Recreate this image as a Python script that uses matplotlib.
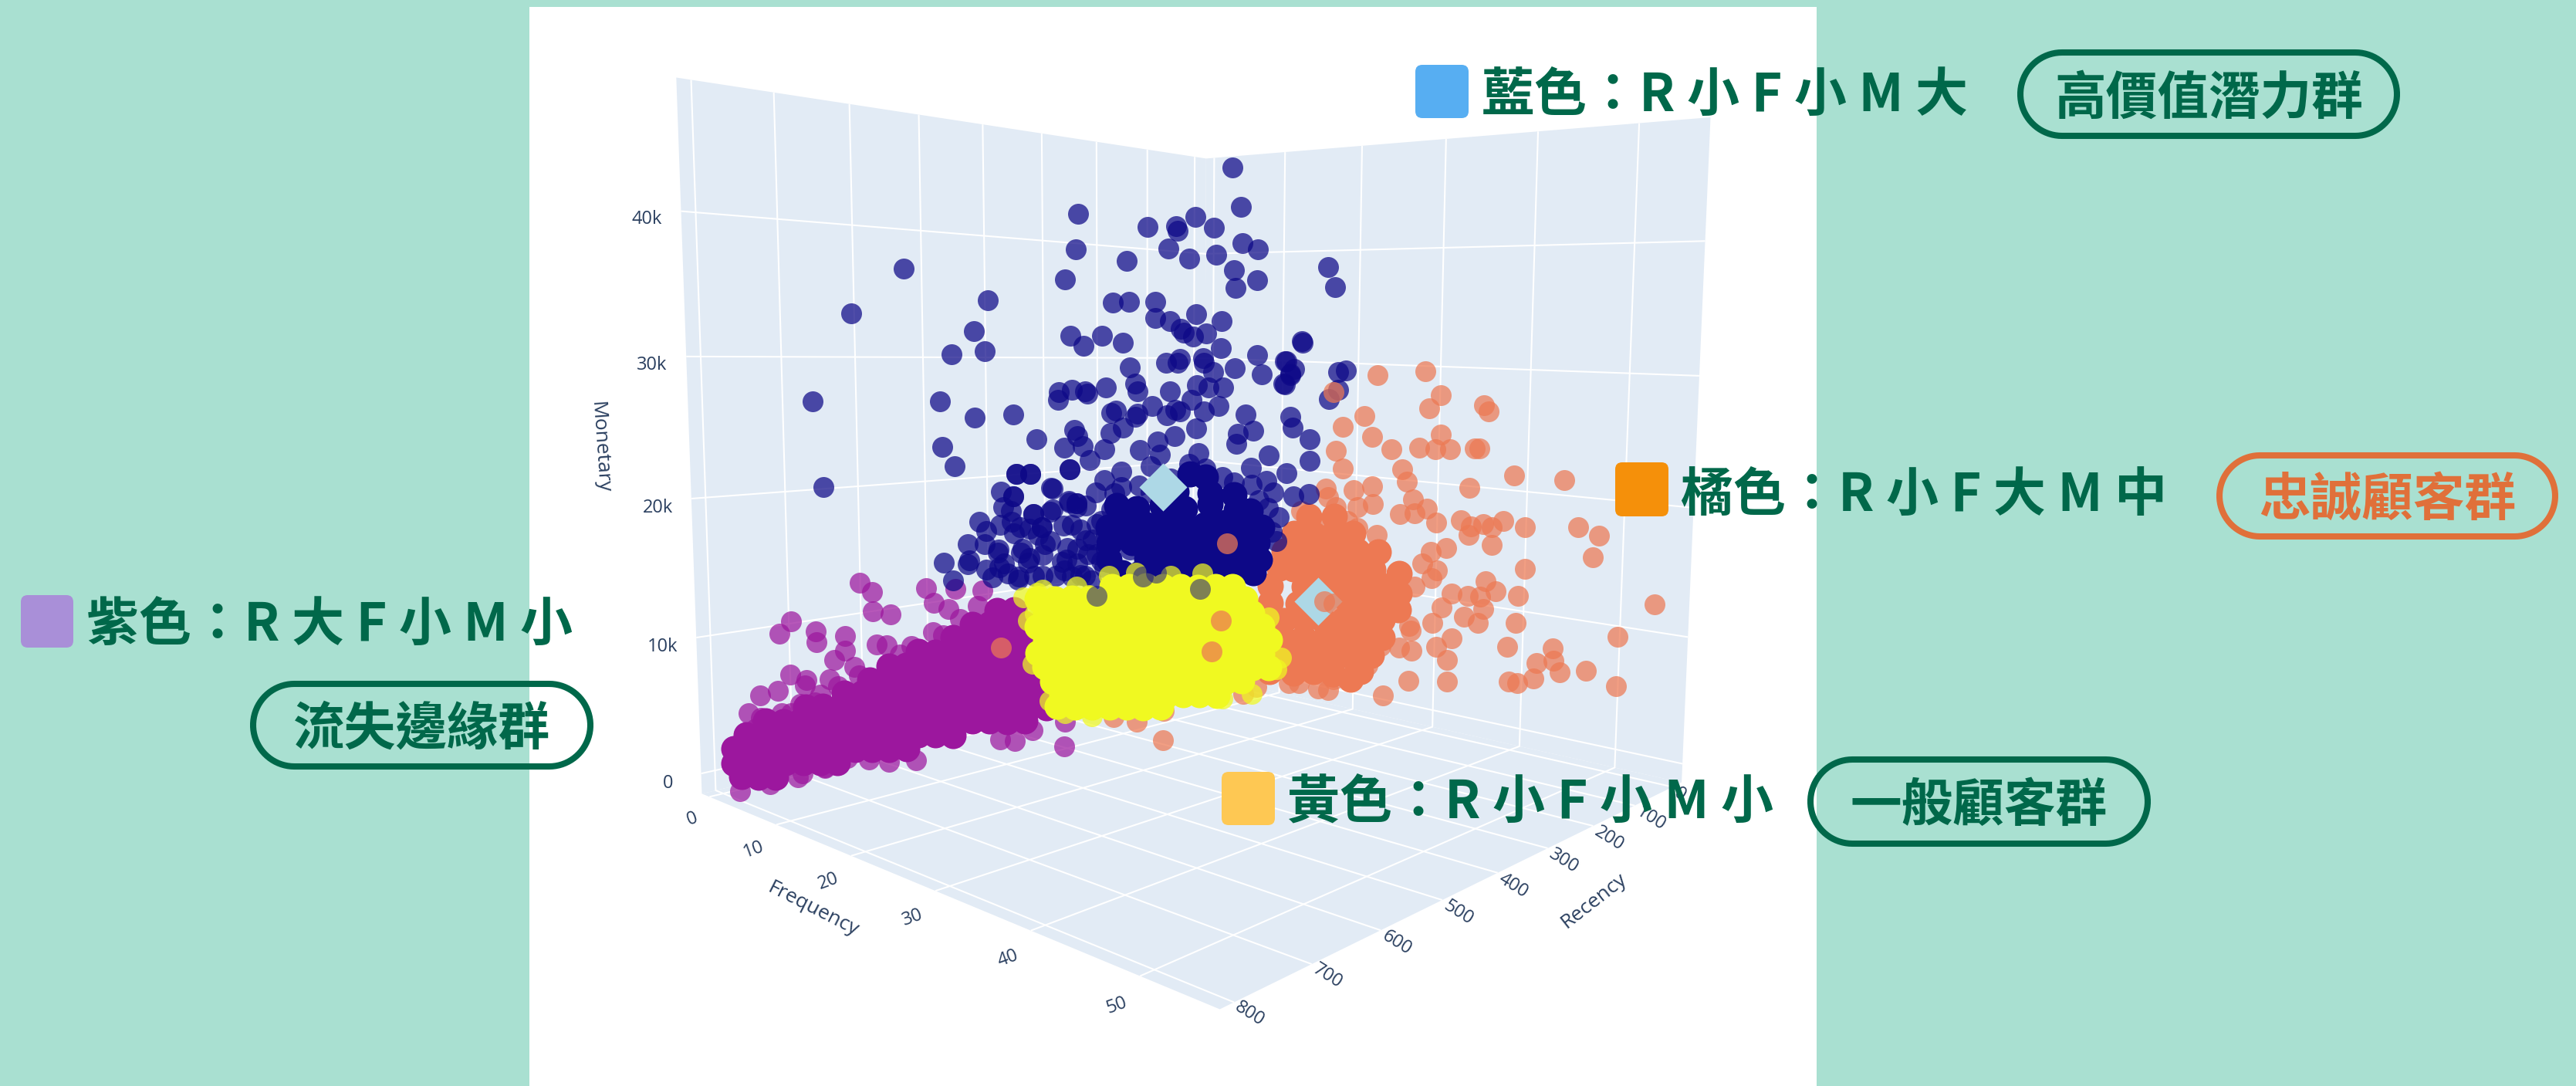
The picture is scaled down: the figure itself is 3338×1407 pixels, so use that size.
import numpy as np
import matplotlib
matplotlib.use('Agg')
import matplotlib.pyplot as plt
from matplotlib.patches import FancyBboxPatch, Polygon, Rectangle

plt.rcParams['font.family'] = ['Noto Sans CJK TC', 'DejaVu Sans']

# monetary values are in thousands
blue_r = [222,212,411,328,293,291,269,245,414,353,302,276,243,209,188,605,427,219,217,189,660,514,370,350,319,319,300,267,235,530,519,555,421,405,383,358,287,282,271,254,
          236,258,188,151,128,143,151,305,288,291,257,245,218,182,350,343,340,301,266,251,232,434,419,435,403,401,378,702,568,530,487,461,372,367,343,340,322,304,293,288,273,
          257,238,203,143,140,417,413,373,358,428,406,380,398,567,553,422,337,316,313,294,266,215,212,193,171,484,468,693,502,488,444,491,466,424,414,527,504,481,456,94,84,129,
          149,139,143,152,78,68,78,90,117,116,117,160,485,468,443,422,414,466,456,420,390,381,360,339,174,148,137,194,422,369,324,255,217,184,157,167,500,478,488,452,414,390,
          414,432,381,472,455,484,405,420,567,539,504,557,513,521,507,
          488,470,446,427,403,385,440,482,397,379,403,372,443,470,500,299,263,275,324,232,196,165,199,171,360,366,391,
          520,505,520,490,480,495,460,455,465,430,425,430,410,400,410,385,380,360,350,540,540,445,415,395]
blue_f = [18.6,19.0,12.7,15.3,16.4,16.5,17.2,17.9,12.6,14.5,16.1,16.9,18.0,19.1,19.7,6.6,12.2,18.7,18.8,19.7,4.8,9.4,14.0,14.6,15.6,15.6,16.2,17.2,18.2,8.9,9.3,8.1,12.4,12.9,13.6,14.3,16.6,16.7,17.1,17.6,
          18.2,17.5,19.7,20.9,21.6,21.1,20.9,16.0,16.6,16.5,17.5,17.9,18.8,19.9,14.6,14.8,14.9,16.2,17.2,17.7,18.3,11.9,12.4,11.9,12.9,13.0,13.7,3.5,7.7,8.9,10.3,11.1,13.9,14.1,14.8,14.9,15.5,16.1,16.4,16.6,17.0,
          17.5,18.1,19.2,21.1,21.2,12.5,12.6,13.9,14.3,12.1,12.8,13.6,13.1,7.8,8.2,12.3,15.0,15.7,15.8,16.4,17.2,18.9,18.9,19.6,20.2,10.4,10.9,3.8,9.8,10.3,11.6,10.2,11.0,12.3,12.6,9.0,9.8,10.5,11.3,22.7,23.0,21.6,
          20.9,21.3,21.1,20.8,23.2,23.5,23.2,22.8,22.0,22.0,22.0,20.6,10.4,10.9,11.7,12.3,12.6,11.0,11.3,12.4,13.3,13.6,14.3,15.0,20.1,21.0,21.3,19.5,12.3,14.0,15.4,17.6,18.8,19.8,20.7,20.4,9.9,10.6,10.2,11.4,12.6,13.3,
          12.6,12.0,13.6,10.8,11.3,10.4,12.9,12.4,7.8,8.7,9.7,8.1,9.5,9.2,9.7,
          10.3,10.8,11.6,12.2,12.9,13.5,11.8,10.4,13.1,13.7,12.9,13.9,11.7,10.8,9.9,16.2,17.3,16.9,15.4,18.3,19.5,20.4,19.4,20.2,14.3,14.1,13.3,
          9.3,9.7,9.3,10.2,10.5,10.0,11.1,11.3,11.0,12.1,12.2,12.1,12.7,13.0,12.7,13.5,13.7,14.3,14.6,8.6,8.6,11.6,12.6,13.2]
blue_m = [45.7,42.6,41.3,40.6,40.8,40.4,41.6,40.8,38.6,37.9,39.0,38.3,38.7,39.7,39.3,36.6,36.3,37.5,36.1,36.8,33.3,34.5,34.6,34.7,34.8,33.5,33.3,33.9,33.4,32.2,30.7,30.4,
          32.0,31.2,32.0,31.5,32.7,32.4,32.1,32.4,31.2,30.4,30.7,30.2,31.8,29.2,28.3,30.0,30.3,30.0,30.0,29.3,29.6,29.1,29.6,28.3,27.7,27.7,28.2,28.0,28.0,27.6,27.8,27.0,27.7,
          27.5,28.0,26.9,26.9,25.7,25.9,24.0,26.0,26.2,25.7,25.9,26.5,25.8,26.2,26.1,27.0,26.1,26.5,25.8,25.6,24.7,24.7,24.2,24.4,24.8,23.3,23.4,23.1,22.3,23.5,22.0,21.6,23.0,
          23.7,22.6,24.1,24.7,23.4,24.2,24.5,22.4,21.3,21.3,20.7,20.0,19.6,20.2,18.5,18.2,19.1,18.6,17.7,17.4,17.2,17.1,38.1,36.5,31.9,30.2,29.6,29.1,28.4,29.4,29.5,27.9,27.1,
          23.7,21.9,19.1,15.2,21.3,21.3,20.1,19.0,18.9,18.2,17.1,17.2,17.2,20.7,20.1,20.2,20.3,20.9,18.9,20.0,21.6,19.6,21.7,21.4,20.2,18.7,17.2,16.0,18.8,15.5,19.6,15.8,15.3,
          14.8,14.1,14.3,13.7,14.4,13.3,13.1,13.1,13.1,14.7,14.8,14.1,13.3,13.4,16.0,15.3,
          16.7,14.7,16.0,14.5,15.9,14.2,13.2,13.3,12.7,16.3,18.7,18.3,18.5,17.0,14.4,20.7,22.7,21.8,19.6,20.7,21.4,19.3,17.7,18.0,21.3,18.8,19.7,
          17.0,15.5,14.0,17.6,15.2,13.6,16.5,14.9,13.3,17.2,15.4,13.6,16.8,14.8,13.2,17.4,15.2,17.6,15.0,16.0,14.5,18.3,18.9,16.0]
blue_core_r = [342,310,281,248,215,292,249,218,275,255,354,329,305,279,256,228,203,180,347,324,298,273,248,222,195,329,304,279,255,228,202,
               360,336,311,287,263,238,214,190,376,376,376,186,183,196,366]
blue_core_f = [14.9,15.9,16.8,17.8,18.9,16.4,17.8,18.8,17.0,17.6,14.5,15.3,16.0,16.8,17.6,18.4,19.2,20.0,14.7,15.4,16.3,17.0,17.8,18.6,19.5,15.3,16.0,16.8,17.6,18.5,19.3,
               14.3,15.0,15.8,16.6,17.3,18.1,18.9,19.6,13.8,13.8,13.8,19.8,19.9,19.5,14.1]
blue_core_m = [18.3,18.5,18.2,18.5,17.9,19.6,19.4,19.2,21.0,20.7,16.9,17.0,17.0,16.7,16.8,16.9,16.6,16.4,15.6,15.6,15.6,15.3,15.4,15.2,15.3,14.2,14.0,14.1,13.9,13.7,13.8,
               13.2,13.1,13.1,13.0,12.9,12.8,12.7,12.6,16.9,15.6,14.3,15.1,13.7,17.8,18.6]
blue_top_r = [261,390,317,333]
blue_top_f = [17.4,13.3,15.6,15.1]
blue_top_m = [11.5,11.4,13.0,12.8]

orange_r = [60,60,60,60,60,60,60,60,60,60,60,60,60,60,60,60,60,60,60,60,60,60,60,60,60,60,60,60,60,60,60,60,60,60,60,60,60,60,60,60,60,60,60,60,60,60,60,60,60,60,
            60,60,60,60,60,60,60,60,60,60,60,60,60,60,60,60,60,60,60,60,60,60,60,60,60,60,60,60,60,60,60,60,60,60,60,60,60,60,60,60,60,60,60,60,60,60,60,60,60,60,
            60,319,316,249,356,102,60]
orange_f = [26.9,32.4,34.2,32.9,38.9,39.4,25.4,22.8,26.4,34.3,28.7,31.9,33.7,35.3,38.0,38.5,22.0,22.9,30.0,30.6,42.2,47.3,37.5,26.5,24.3,20.8,31.3,32.9,29.8,31.5,34.0,36.7,
            37.8,39.1,40.0,41.2,37.6,40.1,43.5,48.8,50.8,50.3,43.6,35.2,33.5,32.5,34.2,33.6,31.7,39.5,40.6,43.0,35.9,37.7,39.0,34.8,39.4,56.2,42.8,33.8,37.3,38.8,31.2,31.4,36.0,
            52.9,42.0,46.7,45.1,46.8,34.3,35.6,31.5,30.1,27.9,47.4,50.0,42.3,43.2,44.8,52.9,35.6,31.2,28.3,26.3,24.5,22.2,20.2,21.5,16.4,17.7,17.7,19.9,21.1,22.1,24.8,26.6,23.6,
            24.8,21.8,27.2,10.1,13.0,11.8,19.3,12.8,12.0]
orange_m = [29.2,29.7,27.8,26.7,27.2,26.7,25.7,24.7,24.0,24.6,23.1,23.4,23.4,23.5,23.7,23.7,22.6,21.1,21.5,20.5,21.8,21.8,20.5,19.8,19.3,19.2,19.1,18.4,17.7,17.9,17.4,17.8,
            17.4,17.7,17.5,18.1,16.7,16.1,17.8,18.3,17.8,16.1,14.5,15.4,14.9,13.8,13.4,12.7,11.8,13.1,12.4,12.3,11.7,11.7,11.8,10.4,10.8,13.2,10.1,9.0,9.9,9.6,8.4,8.0,8.0,10.3,
            8.1,8.6,7.2,7.6,7.0,6.1,6.3,6.4,6.2,6.8,7.3,5.3,5.3,5.9,6.5,4.3,3.7,2.0,4.3,3.1,2.5,1.4,1.4,1.3,1.5,17.0,16.0,18.5,17.7,17.9,18.3,16.6,16.1,15.1,15.7,0.2,0.2,0.2,0.2,
            0.2,0.3]
orange_core_r = [60,60,60,60,60,60,60,60,60,60,60,60,60,60,60,60,60,60,60,60,60,60,60,60,60,60,60,60,60,60,60,60,60,60,60,
                 60,60,60,60,60,60,60,60,60,60,60,60,60,60,60,60,60,60,60,60,60,60,60,60]
orange_core_f = [17.5,20.1,22.6,24.9,27.4,16.8,19.5,22.0,24.4,26.8,18.3,23.1,25.6,27.9,17.5,23.9,26.3,28.7,15.6,18.3,20.9,23.3,25.7,15.6,18.2,20.9,23.3,25.7,16.5,19.0,21.6,24.0,17.0,19.6,22.1,
                 20.6,20.6,29.9,29.9,29.9,28.0,28.0,26.8,25.5,24.3,13.8,13.8,13.8,13.8,13.8,14.4,15.0,15.6,16.9,19.4,21.8,24.3,18.7,22.0]
orange_core_m = [13.3,13.7,13.7,14.1,14.3,11.7,12.1,12.1,12.6,12.7,10.3,10.9,11.0,11.4,8.7,9.4,9.8,10.0,6.9,7.3,7.5,7.9,8.0,5.3,5.7,5.9,6.3,6.7,3.8,4.2,4.5,4.9,2.3,2.8,3.0,
                 10.7,9.1,11.0,9.6,12.7,8.5,7.0,5.3,3.7,2.8,8.3,5.1,9.9,6.7,2.0,3.5,11.6,13.2,14.9,15.1,15.3,15.6,16.6,16.9]
orange_top_r = [60,60,60,60,60,60,462]
orange_top_f = [5.6,6.9,7.8,21.6,20.8,22.0,6.0]
orange_top_m = [2.7,5.8,13.2,27.6,9.3,9.2,6.9]

yellow_r = [355,347,334,369,365,373,367,303,280,250,223,205,166,155,159,180,377,360,331,320,187,174]
yellow_f = [3.9,5.4,8.2,2.6,3.0,2.3,2.8,8.3,10.3,12.8,15.2,16.7,20.1,21.0,20.7,18.9,2.0,3.4,5.9,6.8,18.3,19.4]
yellow_m = [1.0,0.1,0.1,4.2,10.3,7.9,8.5,11.9,12.2,12.0,12.3,1.5,8.6,5.2,4.2,2.0,9.9,10.6,10.9,10.2,10.4,6.5]
yellow_core_r = [301,286,271,257,242,227,212,198,365,350,335,320,305,290,276,261,246,231,216,202,187,358,343,329,314,299,284,269,255,240,225,210,195,180,
                 365,350,335,320,305,291,276,261,246,231,216,202,187,172,358,344,329,314,299,284,269,254,240,225,210,195,180,165,365,350,335,320,305,291,276,261,246,
                 231,216,201,187,172,359,344,329,314,299,284,269,254,240,225,210,195,180,165,352,337,323,308,293,278,263,248,233,218,203,188,344,329,314,299,284,269,
                 254,239,225,210,348,333,318,303,289,274,259]
yellow_core_f = [8.5,9.8,11.0,12.3,13.6,14.8,16.1,17.4,3.0,4.3,5.6,6.8,8.1,9.4,10.7,11.9,13.2,14.5,15.7,17.0,18.3,3.6,4.8,6.1,7.4,8.7,9.9,11.2,12.5,13.7,
                 15.0,16.3,17.5,18.8,3.0,4.3,5.6,6.8,8.1,9.4,10.7,11.9,13.2,14.5,15.7,17.0,18.3,19.6,3.6,4.8,6.1,7.4,8.7,9.9,11.2,12.5,13.7,15.0,16.3,17.6,18.8,20.1,
                 3.0,4.3,5.6,6.8,8.1,9.4,10.7,11.9,13.2,14.5,15.8,17.0,18.3,19.6,3.5,4.8,6.1,7.4,8.6,9.9,11.2,12.5,13.8,15.0,16.3,17.6,18.9,20.1,4.1,5.4,6.6,7.9,9.2,
                 10.5,11.7,13.0,14.3,15.6,16.9,18.1,4.8,6.1,7.4,8.6,9.9,11.2,12.5,13.8,15.0,16.3,4.4,5.7,7.0,8.3,9.6,10.8,12.1]
yellow_core_m = [11.0,11.0,11.1,11.1,11.1,11.1,11.2,11.2,9.8,9.8,9.9,9.9,9.9,10.0,10.0,10.0,10.1,10.1,10.1,10.2,10.2,8.6,8.7,8.7,8.7,8.8,8.8,8.8,8.9,8.9,
                 8.9,9.0,9.0,9.0,7.4,7.5,7.5,7.5,7.6,7.6,7.6,7.7,7.7,7.7,7.8,7.8,7.8,7.9,6.3,6.3,6.3,6.4,6.4,6.4,6.5,6.5,6.5,6.6,6.6,6.6,6.7,6.7,5.1,5.1,5.1,5.2,5.2,
                 5.2,5.3,5.3,5.3,5.4,5.4,5.4,5.5,5.5,3.9,3.9,4.0,4.0,4.0,4.1,4.1,4.1,4.2,4.2,4.2,4.3,4.3,4.3,2.7,2.7,2.8,2.8,2.8,2.9,2.9,2.9,3.0,3.0,3.0,3.1,1.5,1.6,
                 1.6,1.6,1.7,1.7,1.7,1.8,1.8,1.8,0.5,0.5,0.5,0.6,0.6,0.6,0.7]

purple_r = [668,652,575,651,627,564,490,758,773,728,727,689,690,705,647,633,598,678,761,741,711,743,777,799,813,731,532,543,525,498,566,551,510,749,720,661,645,619,491,483,436,378,456,829,799,762,
            806,773,750,724,700,672,615,826,790,755,720,690,660,620]
purple_f = [6.0,6.0,6.0,6.0,6.0,6.0,6.0,6.0,6.0,6.0,6.0,6.0,6.0,6.0,6.0,6.0,6.0,6.0,6.0,6.0,6.0,6.0,6.0,6.0,6.0,6.0,6.0,6.0,6.0,6.0,6.0,6.0,6.0,6.0,6.0,6.0,7.2,8.4,8.3,9.7,8.1,7.9,14.1,6.0,6.0,6.0,
            6.0,6.0,6.0,6.0,6.0,6.0,6.0,6.0,6.0,6.0,6.0,6.0,6.0,6.0]
purple_m = [13.7,12.9,12.6,11.4,11.0,11.4,11.8,11.6,10.8,10.6,9.8,9.9,8.8,8.3,8.9,8.7,8.3,7.5,7.8,7.2,6.9,6.8,6.8,6.7,5.6,5.4,12.2,10.7,9.8,10.6,9.1,8.7,8.6,0.4,0.5,0.3,0.1,0.1,0.1,0.1,0.1,0.1,0.1,3.5,5.1,5.0,
            4.4,5.1,5.5,5.9,6.3,6.8,7.8,0.2,0.2,0.2,0.4,0.8,1.0,1.2]
purple_core_r = [467,439,506,479,451,423,536,510,483,455,427,398,588,563,537,510,483,456,427,398,630,606,581,556,530,503,476,448,419,390,658,634,610,585,
                 560,534,507,480,452,424,394,692,669,645,621,596,571,545,519,492,464,436,407,378,743,721,699,676,652,628,604,579,553,527,500,473,444,416,386,793,772,
                 750,728,706,683,659,636,611,586,561,535,508,481,453,424,817,796,775,754,732,709,687,663,639,615,590,565,539,832,812,791,770,748,726,703,680,657,633,
                 608,833,812,791,770,748,726,704,824,804,783]
purple_core_f = [6.0,6.0,6.0,6.0,6.0,6.0,6.0,6.0,6.0,6.0,6.0,6.0,6.0,6.0,6.0,6.0,6.0,6.0,6.0,6.0,6.0,6.0,6.0,6.0,6.0,6.0,6.0,6.0,6.0,6.0,6.0,6.0,6.0,6.0,6.0,6.0,6.0,6.0,6.0,6.0,
                 6.0,6.0,6.0,6.0,6.0,6.0,6.0,6.0,6.0,6.0,6.0,6.0,6.0,6.0,6.0,6.0,6.0,6.0,6.0,6.0,6.0,6.0,6.0,6.0,6.0,6.0,6.0,6.0,6.0,6.0,6.0,6.0,6.0,6.0,6.0,6.0,6.0,6.0,6.0,6.0,
                 6.0,6.0,6.0,6.0,6.0,6.0,6.0,6.0,6.0,6.0,6.0,6.0,6.0,6.0,6.0,6.0,6.0,6.0,6.0,6.0,6.0,6.0,6.0,6.0,6.0,6.0,6.0,6.0,6.0,6.0,6.0,6.0,6.0,6.0,6.0,6.0,6.0,6.0,6.0]
purple_core_m = [10.0,9.8,9.2,9.0,8.8,8.5,8.4,8.2,7.9,7.7,7.4,7.1,7.8,7.5,7.3,7.0,6.8,6.5,6.2,6.0,7.1,6.9,6.6,6.4,6.1,5.8,5.6,5.3,5.0,4.7,6.3,6.1,5.8,5.6,
                 5.3,5.0,4.8,4.5,4.2,3.9,3.6,5.7,5.4,5.1,4.9,4.6,4.3,4.1,3.8,3.5,3.2,2.9,2.5,2.2,5.2,5.0,4.7,4.4,4.2,3.9,3.6,3.3,3.0,2.7,2.4,2.1,1.8,1.5,1.1,4.8,4.5,
                 4.3,4.0,3.7,3.5,3.2,2.9,2.6,2.3,2.0,1.7,1.4,1.1,0.7,0.4,4.1,3.8,3.6,3.3,3.0,2.7,2.5,2.2,1.9,1.6,1.3,1.0,0.6,3.3,3.0,2.7,2.5,2.2,1.9,1.6,1.3,1.0,0.7,
                 0.4,2.3,2.0,1.7,1.5,1.2,0.9,0.6,1.2,0.9,0.6]

centroid_r = [308, 60]
centroid_f = [15.9, 20.1]
centroid_m = [20.0, 9.2]

r_ticks = [0, 100, 200, 300, 400, 500, 600, 700, 800]
f_ticks = [0, 10, 20, 30, 40, 50]
m_ticks = [0, 10, 20, 30, 40]
m_tick_labels = ['0', '10k', '20k', '30k', '40k']

W, H = 3338, 1407
MINT = '#a9e0d1'
GREEN = '#00684a'
PANE = '#e2ebf5'
INK = '#2a3f5f'
DOT = 378
CORE_DOT = 600

fig = plt.figure(figsize=(W / 100, H / 100), dpi=100, facecolor=MINT)
fig.add_artist(Rectangle((686 / W, 0), (2354 - 686) / W, (H - 9) / H, transform=fig.transFigure, fc='white', ec='none', zorder=-5))

ax = fig.add_axes([0.23402, 0.02623, 0.46028, 1.09197], projection='3d', computed_zorder=False)
ax.set_facecolor('none')
ax.set_xlim(-25, 817, view_margin=0)
ax.set_ylim(-1.2, 56.5, view_margin=0)
ax.set_zlim(-1.5, 49, view_margin=0)
ax.view_init(elev=4.5356, azim=41.6628, roll=-0.7323)
ax.set_proj_type('persp', focal_length=0.2323)
ax.set_box_aspect((1, 0.91949, 0.93014))

# the plotly camera does not look at the box centre, so bend the view a little
warp = np.array([[1.002156, -0.007505, 0, -0.000136],
                 [-0.008049, 1.002075, 0, -0.000598],
                 [0, 0, 1, 0],
                 [0.031913, -0.164397, 0, 1]])
base_proj = ax.get_proj
ax.get_proj = lambda: warp @ base_proj()

for axis in (ax.xaxis, ax.yaxis, ax.zaxis):
    axis.set_pane_color(PANE)
    axis.pane.set_edgecolor('none')
    axis.line.set_color('none')
    axis._axinfo['grid'].update(color='white', linewidth=1.5)
    axis._axinfo['tick'].update(inward_factor=0, outward_factor=0)

ax.set_xticks(r_ticks)
ax.set_yticks(f_ticks)
ax.set_zticks(m_ticks)
ax.set_zticklabels(m_tick_labels)
ax.tick_params(axis='x', labelsize=17, labelcolor=INK, labelrotation=-32, pad=-10, labelfontfamily='Open Sans', color='none')
ax.tick_params(axis='y', labelsize=17, labelcolor=INK, labelrotation=20, pad=0, labelfontfamily='Open Sans', color='none')
ax.tick_params(axis='z', labelsize=17, labelcolor=INK, pad=10, labelfontfamily='Open Sans', color='none')
for label in ax.get_xticklabels():
    label.set_ha('left')
for label in ax.get_yticklabels():
    label.set_ha('right')


def dots(r, f, m, color, alpha, zorder, size=DOT):
    ax.scatter(r, f, m, s=size, c=color, alpha=alpha, linewidths=0, depthshade=False, zorder=zorder)


dots(orange_r, orange_f, orange_m, '#ed7953', 0.72, 1)
dots(orange_core_r, orange_core_f, orange_core_m, '#ed7953', 1, 1.1, CORE_DOT)
dots(purple_r, purple_f, purple_m, '#9c179e', 0.72, 2)
dots(purple_core_r, purple_core_f, purple_core_m, '#9c179e', 1, 2.1, CORE_DOT)
dots(blue_r, blue_f, blue_m, '#0d0887', 0.72, 3)
dots(blue_core_r, blue_core_f, blue_core_m, '#0d0887', 1, 3.1, CORE_DOT)
dots(yellow_r, yellow_f, yellow_m, '#f0f921', 0.72, 4)
dots(yellow_core_r, yellow_core_f, yellow_core_m, '#f0f921', 1, 4.1, CORE_DOT)
dots(blue_top_r, blue_top_f, blue_top_m, '#0d0887', 0.5, 4.5)
ax.scatter(centroid_r, centroid_f, centroid_m, s=1000, c='#add8e6', marker='D', linewidths=0, depthshade=False, zorder=5)
dots(orange_top_r, orange_top_f, orange_top_m, '#ed7953', 0.72, 6)

# annotations on top, laid out in picture pixels
over = fig.add_axes([0, 0, 1, 1])
over.set_xlim(0, W)
over.set_ylim(H, 0)
over.axis('off')

over.text(777, 579, 'Monetary', fontsize=19, color=INK, family='Open Sans', rotation=-86, ha='center', va='center')
over.text(1053, 1178, 'Frequency', fontsize=19, color=INK, family='Open Sans', rotation=-27, ha='center', va='center')
over.text(2065, 1167, 'Recency', fontsize=19, color=INK, family='Open Sans', rotation=38, ha='center', va='center')


def swatch(x0, x1, y0, y1, color):
    over.add_patch(FancyBboxPatch((x0, y0), x1 - x0, y1 - y0, boxstyle='round,pad=0,rounding_size=9', fc=color, ec='none'))


def pill(x0, x1, y0, y1, text, color):
    r = (y1 - y0 - 8) / 2
    t = np.linspace(-np.pi / 2, np.pi / 2, 40)
    xs = np.r_[x1 - 4 - r + r * np.cos(t), x0 + 4 + r - r * np.cos(t[::-1])]
    ys = np.r_[(y0 + y1) / 2 + r * np.sin(t), (y0 + y1) / 2 - r * np.sin(t)]
    over.add_patch(Polygon(np.c_[xs, ys], closed=True, fc='none', ec=color, lw=5.8))
    over.text((x0 + x1) / 2, (y0 + y1) / 2 + 6, text, fontsize=48, fontweight='bold', color=color, ha='center', va='center')


swatch(1834, 1903, 84, 153, '#57aef2')
swatch(2093, 2162, 599, 669, '#f5900a')
swatch(1583, 1652, 1000, 1069, '#fec853')
swatch(27, 95, 771, 839, '#a98fd8')

over.text(1920, 124, '藍色：R 小 F 小 M 大', fontsize=49, fontweight='bold', color=GREEN, ha='left', va='center')
over.text(2178, 642, '橘色：R 小 F 大 M 中', fontsize=49, fontweight='bold', color=GREEN, ha='left', va='center')
over.text(1668, 1040, '黃色：R 小 F 小 M 小', fontsize=49, fontweight='bold', color=GREEN, ha='left', va='center')
over.text(112, 810, '紫色：R 大 F 小 M 小', fontsize=49, fontweight='bold', color=GREEN, ha='left', va='center')

pill(2614, 3110, 64, 180, '高價值潛力群', GREEN)
pill(2872, 3315, 586, 699, '忠誠顧客群', '#e0703a')
pill(324, 769, 882, 997, '流失邊緣群', GREEN)
pill(2342, 2787, 980, 1097, '一般顧客群', GREEN)

fig.savefig('out.png', dpi=100, facecolor=MINT)
